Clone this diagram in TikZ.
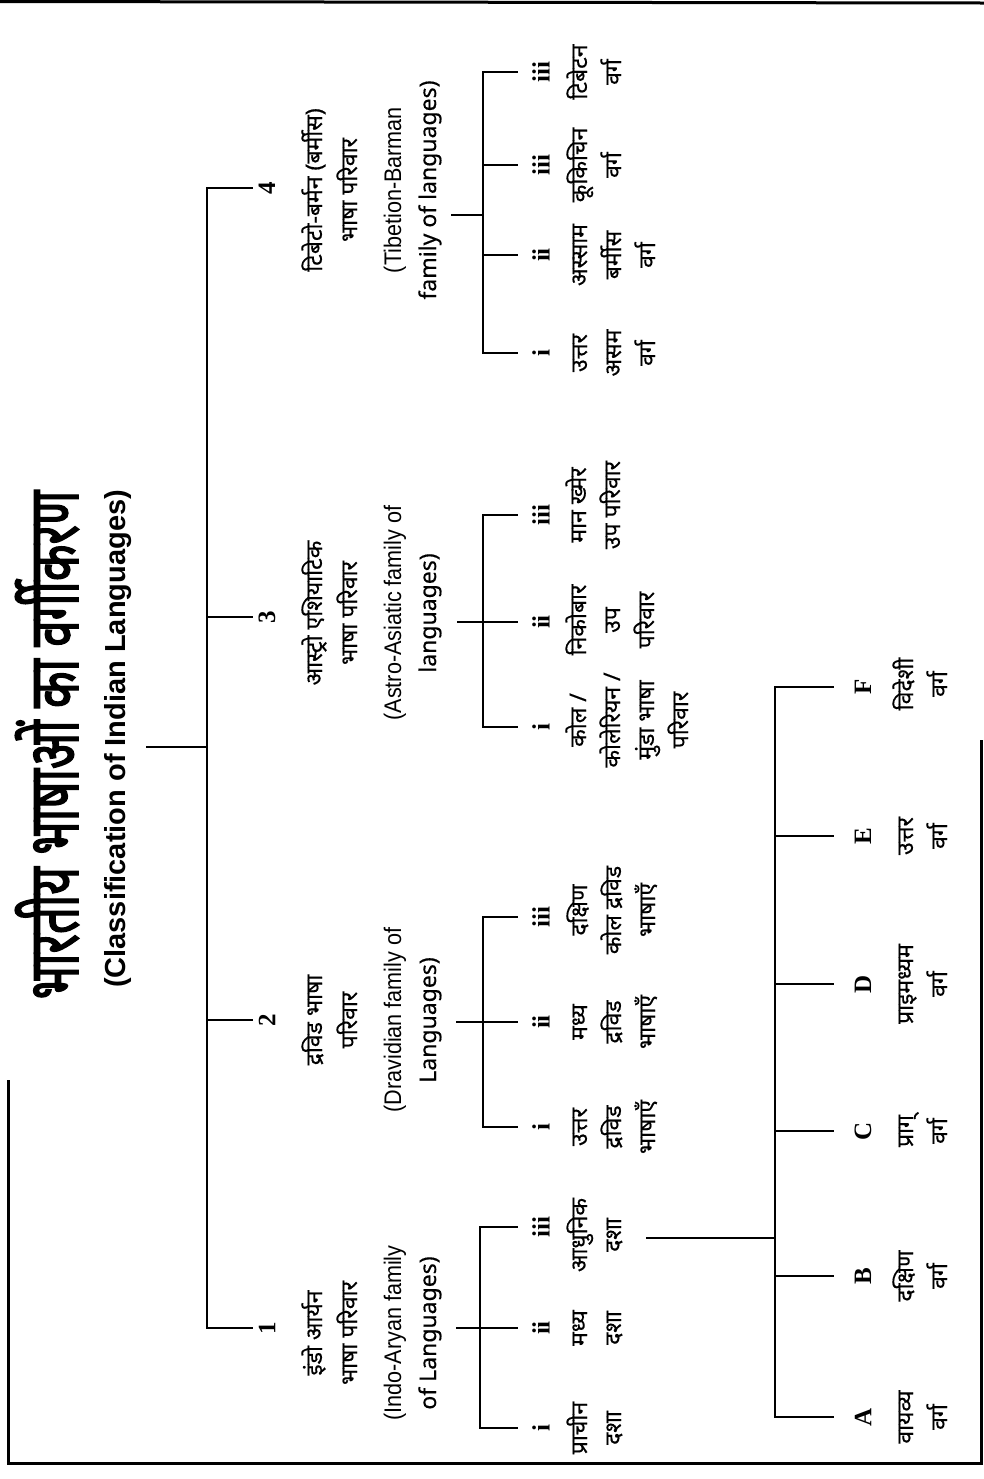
\documentclass[tikz,border=0pt]{standalone}
\usepackage{graphicx}
\usepackage{fontspec}
\newfontfamily\dev[Script=Devanagari,FakeBold=0.4]{Noto Sans}
\newfontfamily\devt[Script=Devanagari,FakeBold=2.5]{Noto Sans}
\newfontfamily\eng[FakeStretch=0.9]{Liberation Sans}
\newfontfamily\engc{Liberation Sans}
\newfontfamily\rom{Liberation Serif}
\tikzset{
  conn/.style={line width=1pt, line cap=rect},
  frame/.style={line width=1.5pt},
  dv/.style={rotate=90, inner sep=0pt, align=center, anchor=base, font=\dev\fontsize{11.5}{17}\selectfont},
  fam/.style={rotate=90, inner sep=0pt, align=center, anchor=base, font=\dev\fontsize{11.5}{17.5}\selectfont},
  num/.style={rotate=90, inner sep=0pt, font=\rom\bfseries\fontsize{12.5}{15}\selectfont},
}
\newcommand{\en}{\eng\fontsize{12}{17}\selectfont}
\begin{document}
\begin{tikzpicture}[x=0.5pt,y=-0.5pt]
\useasboundingbox (0,0) rectangle (984,1479);
% frame
\draw[frame] (0,1.5) -- (984,3);
\draw[frame] (8,1080) -- (8,1463) -- (981,1463) -- (981,740);
% title
\node[rotate=90, inner sep=0pt, anchor=base, font=\devt\fontsize{35}{40}\selectfont] (title) at (78,745) {\scalebox{0.68}[1]{भारतीय भाषाओं का वर्गीकरण}};
\node[rotate=90, inner sep=0pt, anchor=base, font=\engc\bfseries\fontsize{14.5}{17}\selectfont] (sub) at (125,739) {(Classification of Indian Languages)};
% spine
\coordinate (root) at (147,747);
\coordinate (sj) at (207,747);
\coordinate (s4) at (207,188);
\coordinate (s3) at (207,617);
\coordinate (s2) at (207,1020);
\coordinate (s1) at (207,1328);
\draw[conn] (root) -- (sj);
\draw[conn] (s4) -- (s1);
\foreach \k in {1,2,3,4} { \draw[conn] (s\k) -- ++(45,0) coordinate (t\k); }
\node[num] (n4) at (267,188) {4};
\node[num] (n3) at (267,617) {3};
\node[num] (n2) at (267,1020) {2};
\node[num] (n1) at (267,1328) {1};
% family labels (anchor = baseline of last line)
\node[fam] (f4) at (436,190) {टिबेटो-बर्मन (बर्मीस)\\भाषा परिवार\\[4.5pt]\en(Tibetion-Barman\\family of languages)};
\node[fam] (f3) at (436,613) {आस्ट्रो एशियाटिक\\भाषा परिवार\\[4.5pt]\en(Astro-Asiatic family of\\languages)};
\node[fam] (f2) at (436,1020) {द्रविड भाषा\\परिवार\\[4.5pt]\en(Dravidian family of\\Languages)};
\node[fam] (f1) at (436,1333) {इंडो आर्यन\\भाषा परिवार\\[4.5pt]\en(Indo-Aryan family\\of Languages)};
% family 4 bracket
\coordinate (a4) at (452,215); \coordinate (b4) at (483,215);
\coordinate (u4) at (483,72); \coordinate (l4) at (483,353);
\draw[conn] (a4) -- (b4); \draw[conn] (u4) -- (l4);
\coordinate (c4a) at (483,165); \coordinate (c4b) at (483,255);
\draw[conn] (u4) -- ++(34,0); \draw[conn] (c4a) -- ++(34,0); \draw[conn] (c4b) -- ++(34,0); \draw[conn] (l4) -- ++(34,0);
\node[num] (r4i) at (541,353) {i};
\node[num] (r4ii) at (541,255) {ii};
\node[num] (r4iii) at (541,165) {iii};
\node[num] (r4iv) at (541,72) {iii};
\node[dv] (x4i) at (655,353) {उत्तर\\असम\\वर्ग};
\node[dv] (x4ii) at (655,255) {अस्साम\\बर्मीस\\वर्ग};
\node[dv] (x4iii) at (621,165) {कूकिचिन\\वर्ग};
\node[dv] (x4iv) at (621,72) {टिबेटन\\वर्ग};
% family 3 bracket
\coordinate (a3) at (458,622); \coordinate (b3) at (483,622);
\coordinate (u3) at (483,515); \coordinate (l3) at (483,727);
\draw[conn] (a3) -- (b3); \draw[conn] (u3) -- (l3);
\draw[conn] (u3) -- ++(34,0); \draw[conn] (b3) -- ++(34,0); \draw[conn] (l3) -- ++(34,0);
\node[num] (r3i) at (541,727) {i};
\node[num] (r3ii) at (541,622) {ii};
\node[num] (r3iii) at (541,515) {iii};
\node[dv] (x3i) at (688,720) {कोल /\\कोलेरियन /\\मुंडा भाषा\\परिवार};
\node[dv] (x3ii) at (654,620) {निकोबार\\उप\\परिवार};
\node[dv] (x3iii) at (620,505) {मान ख्मेर\\उप परिवार};
% family 2 bracket
\coordinate (a2) at (457,1022); \coordinate (b2) at (483,1022);
\coordinate (u2) at (483,917); \coordinate (l2) at (483,1127);
\draw[conn] (a2) -- (b2); \draw[conn] (u2) -- (l2);
\draw[conn] (u2) -- ++(34,0); \draw[conn] (b2) -- ++(34,0); \draw[conn] (l2) -- ++(34,0);
\node[num] (r2i) at (541,1127) {i};
\node[num] (r2ii) at (541,1022) {ii};
\node[num] (r2iii) at (541,917) {iii};
\node[dv] (x2i) at (655,1127) {उत्तर\\द्रविड\\भाषाएँ};
\node[dv] (x2ii) at (655,1022) {मध्य\\द्रविड\\भाषाएँ};
\node[dv] (x2iii) at (655,910) {दक्षिण\\कोल द्रविड\\भाषाएँ};
% family 1 bracket
\coordinate (a1) at (457,1328); \coordinate (b1) at (480,1328);
\coordinate (u1) at (480,1227); \coordinate (l1) at (480,1428);
\draw[conn] (a1) -- (b1); \draw[conn] (u1) -- (l1);
\draw[conn] (u1) -- ++(37,0); \draw[conn] (b1) -- ++(37,0); \draw[conn] (l1) -- ++(37,0);
\node[num] (r1i) at (541,1428) {i};
\node[num] (r1ii) at (541,1328) {ii};
\node[num] (r1iii) at (541,1227) {iii};
\node[dv] (x1i) at (621,1428) {प्राचीन\\दशा};
\node[dv] (x1ii) at (621,1328) {मध्य\\दशा};
\node[dv] (x1iii) at (621,1235) {आधुनिक\\दशा};
% modern stage bracket
\coordinate (m0) at (647,1238); \coordinate (m1) at (775,1238);
\draw[conn] (m0) -- (m1);
\coordinate (gF) at (775,687); \coordinate (gE) at (775,836); \coordinate (gD) at (775,984);
\coordinate (gC) at (775,1131); \coordinate (gB) at (775,1276); \coordinate (gA) at (775,1417);
\draw[conn] (gF) -- (gA);
\foreach \g in {A,B,C,D,E,F} { \draw[conn] (g\g) -- ++(58,0); }
\node[num] (lF) at (863,687) {F};
\node[num] (lE) at (863,836) {E};
\node[num] (lD) at (863,984) {D};
\node[num] (lC) at (863,1131) {C};
\node[num] (lB) at (863,1276) {B};
\node[num] (lA) at (863,1417) {A};
\node[dv] (yF) at (947,684) {विदेशी\\वर्ग};
\node[dv] (yE) at (947,836) {उत्तर\\वर्ग};
\node[dv] (yD) at (947,984) {प्राइमध्यम\\वर्ग};
\node[dv] (yC) at (947,1131) {प्राग्\\वर्ग};
\node[dv] (yB) at (947,1276) {दक्षिण\\वर्ग};
\node[dv] (yA) at (947,1417) {वायव्य\\वर्ग};
\end{tikzpicture}
\end{document}
